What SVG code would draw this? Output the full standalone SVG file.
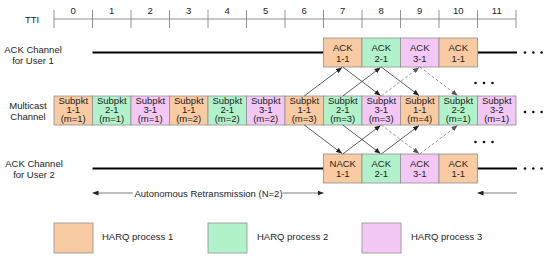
<svg xmlns="http://www.w3.org/2000/svg" width="550" height="256" viewBox="0 0 550 256">
<defs>
<style>
text{font-family:"Liberation Sans",Arial,sans-serif;font-size:9.5px;fill:#222;text-anchor:middle}
.leg{text-anchor:start}
.mc{font-size:9px}
.cell{stroke:#8f8f8f;stroke-width:0.8}
.p1{fill:#F9CBA2}
.p2{fill:#B1F2CA}
.p3{fill:#F4C8F4}
.axis{stroke:#777;stroke-width:0.8;fill:none}
.chan{stroke:#000;stroke-width:2;fill:none}
.arr{stroke:#333;stroke-width:0.8;fill:none;marker-end:url(#ah)}
.dash{stroke:#777;stroke-width:0.8;fill:none;stroke-dasharray:3,2;marker-end:url(#ahg)}
.span{stroke:#444;stroke-width:0.7;fill:none;marker-end:url(#ah)}
.dot{fill:#111}
</style>
<marker id="ah" markerUnits="userSpaceOnUse" markerWidth="6" markerHeight="5" refX="6" refY="2.5" orient="auto"><path d="M0,0 L6,2.5 L0,5 z" fill="#222"/></marker>
<marker id="ahg" markerUnits="userSpaceOnUse" markerWidth="6" markerHeight="5" refX="6" refY="2.5" orient="auto"><path d="M0,0 L6,2.5 L0,5 z" fill="#555"/></marker>
</defs>
<rect width="550" height="256" fill="#fff"/>

<g id="tti-axis">
<text x="32" y="22.5">TTI</text>
<path class="axis" d="M54,19 H516 M54,10 V28 M92.5,10 V28 M131,10 V28 M169.5,10 V28 M208,10 V28 M246.5,10 V28 M285,10 V28 M323.5,10 V28 M362,10 V28 M400.5,10 V28 M439,10 V28 M477.5,10 V28 M516,10 V28"/>
<text x="73.25" y="13.5">0</text>
<text x="111.75" y="13.5">1</text>
<text x="150.25" y="13.5">2</text>
<text x="188.75" y="13.5">3</text>
<text x="227.25" y="13.5">4</text>
<text x="265.75" y="13.5">5</text>
<text x="304.25" y="13.5">6</text>
<text x="342.75" y="13.5">7</text>
<text x="381.25" y="13.5">8</text>
<text x="419.75" y="13.5">9</text>
<text x="458.25" y="13.5">10</text>
<text x="496.75" y="13.5">11</text>
</g>

<g id="ack-user1">
<text x="33" y="53">ACK Channel</text>
<text x="33" y="64">for User 1</text>
<path class="chan" d="M92.5,52.5 H323.5 M477.5,52.5 H517"/>
<rect class="cell p1" x="323.5" y="38" width="38.5" height="29"/>
<rect class="cell p2" x="362" y="38" width="38.5" height="29"/>
<rect class="cell p3" x="400.5" y="38" width="38.5" height="29"/>
<rect class="cell p1" x="439" y="38" width="38.5" height="29"/>
<text x="342.75" y="51">ACK</text><text x="342.75" y="61.5">1-1</text>
<text x="381.25" y="51">ACK</text><text x="381.25" y="61.5">2-1</text>
<text x="419.75" y="51">ACK</text><text x="419.75" y="61.5">3-1</text>
<text x="458.25" y="51">ACK</text><text x="458.25" y="61.5">1-1</text>
<circle class="dot" cx="525" cy="52.5" r="1.3"/><circle class="dot" cx="533.3" cy="52.5" r="1.3"/><circle class="dot" cx="541.6" cy="52.5" r="1.3"/>
</g>

<g id="multicast">
<text x="28" y="108.5">Multicast</text>
<text x="28" y="120">Channel</text>
<rect class="cell p1" x="54" y="96" width="38.5" height="29"/>
<rect class="cell p2" x="92.5" y="96" width="38.5" height="29"/>
<rect class="cell p3" x="131" y="96" width="38.5" height="29"/>
<rect class="cell p1" x="169.5" y="96" width="38.5" height="29"/>
<rect class="cell p2" x="208" y="96" width="38.5" height="29"/>
<rect class="cell p3" x="246.5" y="96" width="38.5" height="29"/>
<rect class="cell p1" x="285" y="96" width="38.5" height="29"/>
<rect class="cell p2" x="323.5" y="96" width="38.5" height="29"/>
<rect class="cell p3" x="362" y="96" width="38.5" height="29"/>
<rect class="cell p1" x="400.5" y="96" width="38.5" height="29"/>
<rect class="cell p2" x="439" y="96" width="38.5" height="29"/>
<rect class="cell p3" x="477.5" y="96" width="38.5" height="29"/>
<g class="mc">
<text x="73.25" y="104">Subpkt</text><text x="73.25" y="113">1-1</text><text x="73.25" y="122">(m=1)</text>
<text x="111.75" y="104">Subpkt</text><text x="111.75" y="113">2-1</text><text x="111.75" y="122">(m=1)</text>
<text x="150.25" y="104">Subpkt</text><text x="150.25" y="113">3-1</text><text x="150.25" y="122">(m=1)</text>
<text x="188.75" y="104">Subpkt</text><text x="188.75" y="113">1-1</text><text x="188.75" y="122">(m=2)</text>
<text x="227.25" y="104">Subpkt</text><text x="227.25" y="113">2-1</text><text x="227.25" y="122">(m=2)</text>
<text x="265.75" y="104">Subpkt</text><text x="265.75" y="113">3-1</text><text x="265.75" y="122">(m=2)</text>
<text x="304.25" y="104">Subpkt</text><text x="304.25" y="113">1-1</text><text x="304.25" y="122">(m=3)</text>
<text x="342.75" y="104">Subpkt</text><text x="342.75" y="113">2-1</text><text x="342.75" y="122">(m=3)</text>
<text x="381.25" y="104">Subpkt</text><text x="381.25" y="113">3-1</text><text x="381.25" y="122">(m=3)</text>
<text x="419.75" y="104">Subpkt</text><text x="419.75" y="113">1-1</text><text x="419.75" y="122">(m=4)</text>
<text x="458.25" y="104">Subpkt</text><text x="458.25" y="113">2-2</text><text x="458.25" y="122">(m=1)</text>
<text x="496.75" y="104">Subpkt</text><text x="496.75" y="113">3-2</text><text x="496.75" y="122">(m=1)</text>
</g>
<circle class="dot" cx="525" cy="112" r="1.3"/><circle class="dot" cx="533.3" cy="112" r="1.3"/><circle class="dot" cx="541.6" cy="112" r="1.3"/>
<circle class="dot" cx="475.5" cy="83" r="1.3"/><circle class="dot" cx="484" cy="83" r="1.3"/><circle class="dot" cx="492.5" cy="83" r="1.3"/>
<circle class="dot" cx="475.5" cy="142" r="1.3"/><circle class="dot" cx="484" cy="142" r="1.3"/><circle class="dot" cx="492.5" cy="142" r="1.3"/>
</g>

<g id="ack-user2">
<text x="34" y="166.5">ACK Channel</text>
<text x="34" y="178">for User 2</text>
<path class="chan" d="M92.5,168.5 H323.5 M477.5,168.5 H517"/>
<rect class="cell p1" x="323.5" y="154" width="38.5" height="29"/>
<rect class="cell p2" x="362" y="154" width="38.5" height="29"/>
<rect class="cell p3" x="400.5" y="154" width="38.5" height="29"/>
<rect class="cell p1" x="439" y="154" width="38.5" height="29"/>
<text x="342.75" y="166.5">NACK</text><text x="342.75" y="177">1-1</text>
<text x="381.25" y="166.5">ACK</text><text x="381.25" y="177">2-1</text>
<text x="419.75" y="166.5">ACK</text><text x="419.75" y="177">3-1</text>
<text x="458.25" y="166.5">ACK</text><text x="458.25" y="177">1-1</text>
<circle class="dot" cx="525" cy="168.5" r="1.3"/><circle class="dot" cx="533.3" cy="168.5" r="1.3"/><circle class="dot" cx="541.6" cy="168.5" r="1.3"/>
</g>

<g id="connectors">
<line class="arr" x1="304.25" y1="96" x2="342" y2="67.5"/>
<line class="arr" x1="342.75" y1="96" x2="380.5" y2="67.5"/>
<line class="dash" x1="381.25" y1="96" x2="419" y2="67.5"/>
<line class="arr" x1="342.75" y1="67" x2="380.5" y2="95.5"/>
<line class="arr" x1="381.25" y1="67" x2="419" y2="95.5"/>
<line class="dash" x1="419.75" y1="67" x2="457.5" y2="95.5"/>
<line class="arr" x1="304.25" y1="125" x2="342" y2="153.5"/>
<line class="arr" x1="342.75" y1="125" x2="380.5" y2="153.5"/>
<line class="dash" x1="381.25" y1="125" x2="419" y2="153.5"/>
<line class="arr" x1="342.75" y1="154" x2="380.5" y2="125.5"/>
<line class="arr" x1="381.25" y1="154" x2="419" y2="125.5"/>
<line class="dash" x1="419.75" y1="154" x2="457.5" y2="125.5"/>
<line class="span" x1="133" y1="193" x2="92.5" y2="193"/>
<line class="span" x1="283" y1="193" x2="323.5" y2="193"/>
<line class="span" x1="517" y1="193" x2="477.5" y2="193"/>
</g>
<text id="span-label" x="208.5" y="196.5">Autonomous Retransmission (N=2)</text>

<g id="legend">
<rect class="cell p1" x="54" y="223" width="39" height="30"/>
<text class="leg" x="102" y="240">HARQ process 1</text>
<rect class="cell p2" x="208" y="223" width="39" height="30"/>
<text class="leg" x="257" y="240">HARQ process 2</text>
<rect class="cell p3" x="362" y="223" width="39" height="30"/>
<text class="leg" x="411" y="240">HARQ process 3</text>
</g>
</svg>
